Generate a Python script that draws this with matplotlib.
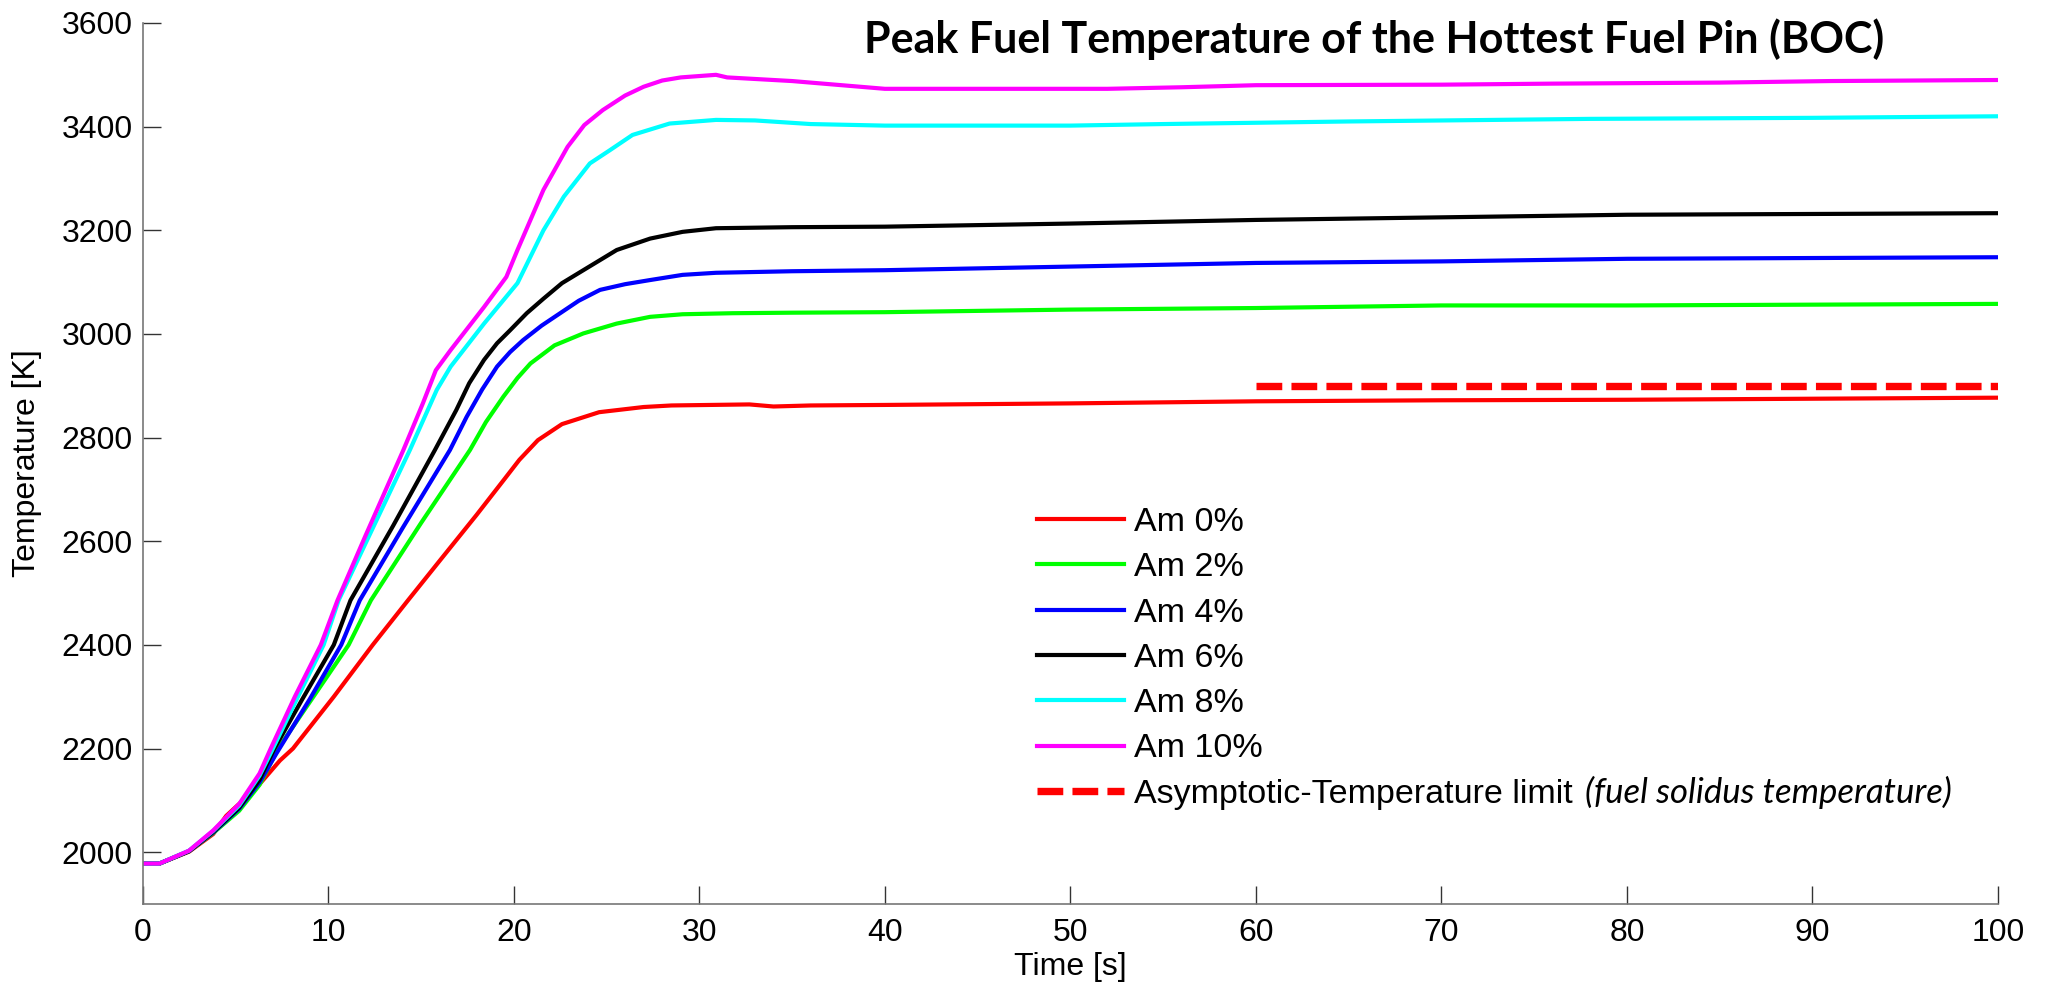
import numpy as np
import matplotlib
matplotlib.use('Agg')
import matplotlib.pyplot as plt

plt.rcParams['font.family'] = ['Liberation Sans', 'DejaVu Sans']

# data -----------------------------------------------------------------
t_am0 = [0, 0.9, 2.5, 3.8, 4.5, 6.1, 7.4, 8.1, 10.3, 12.4, 14.3, 16, 18, 19.5, 20.3, 21.3,
         22.6, 24.6, 27.0, 28.5, 32.7, 34, 36, 40, 50, 60, 70, 80, 90, 100]
T_am0 = [1978, 1978, 2001, 2035, 2070, 2123, 2177, 2200, 2300, 2400, 2486, 2562, 2651, 2720, 2757, 2795,
         2826, 2849, 2859, 2862, 2864, 2860, 2862, 2863, 2866, 2870, 2872, 2873, 2875, 2877]

t_am2 = [0, 0.9, 2.5, 3.8, 5.2, 6.3, 7.3, 9.2, 11.1, 12.3, 15.0, 17.64, 18.5, 19.44, 20.2,
         20.9, 22.2, 23.75, 25.55, 27.35, 29.1, 31.8, 35, 40, 50, 60, 70, 80, 100]
T_am2 = [1978, 1978, 2002, 2037, 2080, 2130, 2200, 2300, 2400, 2486, 2635, 2776, 2830, 2879, 2915,
         2943, 2978, 3001, 3020, 3033, 3038, 3040, 3041, 3042, 3047, 3050, 3055, 3055, 3058]

t_am4 = [0, 0.9, 2.5, 3.8, 5.2, 6.3, 7.2, 9.0, 10.7, 11.7, 14.0, 16.56, 17.46, 18.3, 19.1,
         19.8, 20.5, 21.5, 22.5, 23.5, 24.65, 26.0, 27.35, 29.1, 30.9, 35, 40, 50, 60, 70, 80, 100]
T_am4 = [1978, 1978, 2002, 2038, 2084, 2135, 2190, 2295, 2400, 2486, 2625, 2776, 2840, 2893, 2937,
         2965, 2988, 3016, 3040, 3064, 3085, 3096, 3104, 3114, 3118, 3121, 3123, 3130, 3137, 3140,
         3145, 3148]

t_am6 = [0, 0.9, 2.5, 3.8, 5.2, 6.3, 7.1, 8.6, 10.3, 11.2, 13.5, 15.75, 16.9, 17.6, 18.4,
         19.1, 19.8, 20.7, 21.6, 22.6, 23.75, 25.55, 27.35, 29.1, 30.9, 35, 40, 45, 50, 60,
         70, 80, 100]
T_am6 = [1978, 1978, 2002, 2039, 2086, 2140, 2200, 2295, 2400, 2486, 2630, 2776, 2853, 2905, 2950,
         2982, 3007, 3040, 3068, 3098, 3123, 3162, 3184, 3197, 3204, 3206, 3207, 3210, 3213, 3220,
         3225, 3230, 3233]

t_am8 = [0, 0.9, 2.5, 3.8, 5.2, 6.3, 6.95, 8.3, 9.75, 10.56, 12.0, 14.4, 15.85, 16.6, 18.4,
         20.2, 20.9, 21.6, 22.7, 24.1, 25.2, 26.4, 28.4, 30.9, 33, 36, 40, 50, 55, 65, 78, 90, 100]
T_am8 = [1978, 1978, 2003, 2041, 2090, 2148, 2195, 2295, 2400, 2486, 2595, 2776, 2892, 2937, 3020,
         3098, 3149, 3200, 3265, 3329, 3355, 3384, 3406, 3413, 3412, 3405, 3402, 3402, 3405, 3410,
         3415, 3417, 3420]

t_am10 = [0, 0.9, 2.5, 3.8, 5.2, 6.3, 6.9, 8.2, 9.6, 10.5, 12.0, 14.05, 15.1, 15.8, 16.6,
          18.4, 19.6, 20.2, 20.9, 21.6, 22.9, 23.8, 24.8, 26.0, 27.0, 28.0, 29.0, 30.9, 31.5,
          35, 40, 45, 52, 56, 60, 70, 76, 85, 91, 100]
T_am10 = [1978, 1978, 2003, 2042, 2093, 2152, 2200, 2300, 2400, 2486, 2610, 2776, 2866, 2930, 2969,
          3052, 3110, 3162, 3220, 3278, 3361, 3403, 3432, 3460, 3477, 3489, 3495, 3500, 3495,
          3488, 3473, 3473, 3473, 3476, 3480, 3481, 3483, 3485, 3488, 3490]

t_limit = [60, 100]
T_limit = [2900, 2900]

series = [
    ('Am 0%', t_am0, T_am0, '#ff0000'),
    ('Am 2%', t_am2, T_am2, '#00ff00'),
    ('Am 4%', t_am4, T_am4, '#0000ff'),
    ('Am 6%', t_am6, T_am6, '#000000'),
    ('Am 8%', t_am8, T_am8, '#00ffff'),
    ('Am 10%', t_am10, T_am10, '#ff00ff'),
]

# plot -----------------------------------------------------------------
fig = plt.figure(figsize=(20.49, 9.92), dpi=100)
ax = fig.add_axes([142.7 / 2049, 1 - 904 / 992, (1998 - 142.7) / 2049, (904 - 23) / 992])

for label, t, T, c in series:
    ax.plot(t, T, color=c, lw=3.0, label=label, solid_joinstyle='round')

ax.plot(t_limit, T_limit, color='#ff0000', lw=5.3, linestyle=(0, (3.5, 1.25)),
        label='Asymptotic-Temperature limit')

ax.set_xlim(0, 100)
ax.set_ylim(1900, 3600)
ax.set_xticks(np.arange(0, 101, 10))
ax.set_yticks(np.arange(2000, 3601, 200))

for s in ['top', 'right']:
    ax.spines[s].set_visible(False)
for s in ['left', 'bottom']:
    ax.spines[s].set_color('#777777')
    ax.spines[s].set_linewidth(1.2)

ax.tick_params(axis='both', direction='in', length=13, width=1.0, color='#333333',
               labelsize=23)
ax.tick_params(axis='x', pad=10)
ax.tick_params(axis='y', pad=7)

ax.set_xlabel('Time [s]', fontsize=23, labelpad=3)
ax.set_ylabel('Temperature [K]', fontsize=23, labelpad=14)

leg = ax.legend(loc='upper left', bbox_to_anchor=(1037 / 2049, 1 - 507 / 992),
                bbox_transform=fig.transFigure, frameon=False, fontsize=24.5,
                handlelength=2.55, handletextpad=0.3, labelspacing=0.42,
                borderpad=0, borderaxespad=0)

fig.text(0.6706, 1 - 39 / 992, 'Peak Fuel Temperature of the Hottest Fuel Pin (BOC)',
         fontsize=31, fontweight='bold', family=['Lato', 'DejaVu Sans'],
         ha='center', va='center')

# italic note after the last legend entry
fig.canvas.draw()
renderer = fig.canvas.get_renderer()
bb = leg.get_texts()[-1].get_window_extent(renderer)
fig.text((bb.x1 + 12) / fig.bbox.width, (bb.y0 + bb.y1) / 2 / fig.bbox.height + 0.002,
         '(fuel solidus temperature)', fontsize=25, style='italic',
         family=['Lato', 'DejaVu Sans'], ha='left', va='center')

fig.savefig('out.png', dpi=100)
